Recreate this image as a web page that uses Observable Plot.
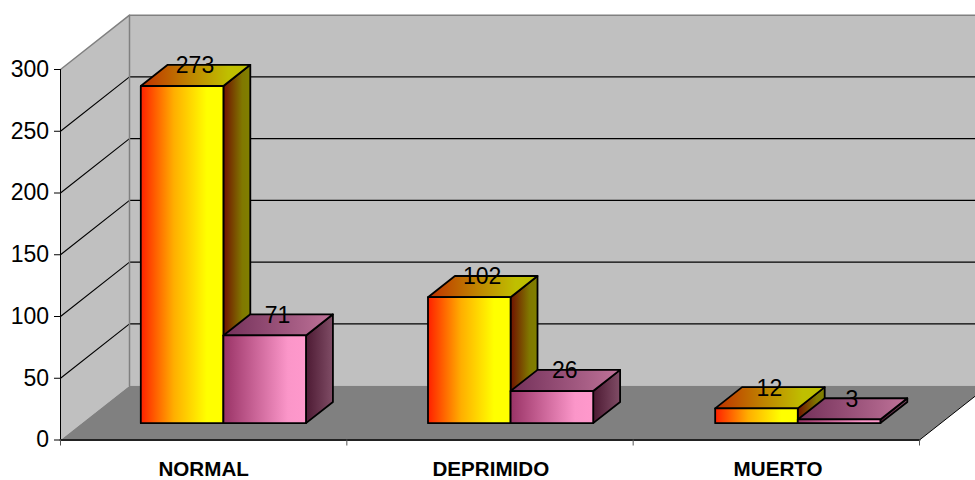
<!DOCTYPE html>
<html>
<head>
<meta charset="utf-8">
<script src="https://cdn.jsdelivr.net/npm/d3@7"></script>
<script src="https://cdn.jsdelivr.net/npm/@observablehq/plot@0.6"></script>
<style>
  html, body { margin: 0; padding: 0; background: #fff; }
  svg { display: block; }
</style>
</head>
<body>
<div id="chart"></div>
<script>
const categories = ["NORMAL", "DEPRIMIDO", "MUERTO"];
const seriesA = [273, 102, 12];
const seriesB = [71, 26, 3];
const valueTicks = [0, 50, 100, 150, 200, 250, 300];
const categoryTicks = [0, 1, 2, 3];

// Oblique projection: depth 0 is the front plane, depth 1 the back wall.
const DEPTH_X = 0.241;   // category units
const DEPTH_Y = 44;      // value units
const at = (x, v, d = 0) => ({x: x + d * DEPTH_X, y: v + d * DEPTH_Y});

const BAR_FRONT = 0.31, BAR_BACK = 0.70;
const BAR_WIDTH = 0.2885, BAR_GAP = 0.2057, BAR_STEP = 1.003;
const BAR_OUTLINE = 1.8;
const MAX_VALUE = 300;

const face = (points, fill, stroke = "none", strokeWidth = 1) =>
  Plot.line([...points, points[0]], {x: "x", y: "y", fill, stroke, strokeWidth});
const edge = (points, stroke, strokeWidth = 1) =>
  Plot.line(points, {x: "x", y: "y", stroke, strokeWidth});

function gradient(id, stops) {
  const g = d3.create("svg:linearGradient").attr("id", id);
  for (const [offset, color] of stops) {
    g.append("stop").attr("offset", offset).attr("stop-color", color);
  }
  return g.node();
}

// Gradient definitions for the three faces of each bar series.
function defs() {
  const d = d3.create("svg:defs");
  const add = (id, stops) => d.append(() => gradient(id, stops));
  add("warmFront", [[0, "#ff2000"], [0.4, "#ffae00"], [0.8, "#ffff00"], [1, "#ffff00"]]);
  add("warmTop", [[0, "#bf3000"], [0.45, "#bf8500"], [0.8, "#bfbf00"], [1, "#bfbf00"]]);
  add("warmSide", [[0, "#701000"], [0.7, "#807800"], [1, "#808000"]]);
  add("pinkFront", [[0, "#993366"], [0.78, "#fb96c9"], [1, "#ff99cc"]]);
  add("pinkTop", [[0, "#733059"], [1, "#bf7399"]]);
  add("pinkSide", [[0, "#4d1a33"], [1, "#804d66"]]);
  return d.node();
}

function bar(x0, value, prefix) {
  const x1 = x0 + BAR_WIDTH;
  return [
    face([at(x1, 0, BAR_FRONT), at(x1, 0, BAR_BACK), at(x1, value, BAR_BACK), at(x1, value, BAR_FRONT)],
         `url(#${prefix}Side)`, "#000", BAR_OUTLINE),
    face([at(x0, value, BAR_FRONT), at(x1, value, BAR_FRONT), at(x1, value, BAR_BACK), at(x0, value, BAR_BACK)],
         `url(#${prefix}Top)`, "#000", BAR_OUTLINE),
    face([at(x0, 0, BAR_FRONT), at(x1, 0, BAR_FRONT), at(x1, value, BAR_FRONT), at(x0, value, BAR_FRONT)],
         `url(#${prefix}Front)`, "#000", BAR_OUTLINE)
  ];
}

const barLeft = i => BAR_GAP + i * BAR_STEP;
const labels = categories.flatMap((c, i) => [
  {...at(barLeft(i) + BAR_WIDTH / 2, seriesA[i], BAR_BACK), text: String(seriesA[i])},
  {...at(barLeft(i) + BAR_WIDTH * 1.5, seriesB[i], BAR_BACK), text: String(seriesB[i])}
]);

const chart = Plot.plot({
  width: 975,
  height: 480,
  marginLeft: 60,
  marginRight: 56,
  marginTop: 69,
  marginBottom: 40.5,
  style: {fontFamily: "'Liberation Sans', Arial, sans-serif", background: "#fff", color: "#000"},
  x: {domain: [0, 3], axis: null},
  y: {domain: [0, MAX_VALUE], axis: null},
  marks: [
    defs,
    // Back wall, side wall and floor
    face([at(0, 0, 1), at(3, 0, 1), at(3, MAX_VALUE, 1), at(0, MAX_VALUE, 1)], "#c0c0c0"),
    face([at(0, 0), at(0, 0, 1), at(0, MAX_VALUE, 1), at(0, MAX_VALUE)], "#c0c0c0"),
    face([at(0, 0), at(3, 0), at(3, 0, 1), at(0, 0, 1)], "#808080"),
    // Gridlines running along the side wall and the back wall
    ...valueTicks.filter(v => v > 0 && v < MAX_VALUE).map(v =>
      edge([at(0, v), at(0, v, 1), at(3, v, 1)], "#000", 1.1)),
    edge([at(0, MAX_VALUE), at(0, MAX_VALUE, 1), at(3, MAX_VALUE, 1)], "#808080", 1.5),
    edge([at(0, 0, 1), at(0, MAX_VALUE, 1)], "#808080", 1.5),
    edge([at(0, 0), at(0, MAX_VALUE)], "#000", 1),
    edge([at(3, 0), at(3, 0, 1)], "#000", 1),
    edge([at(0, 0), at(3, 0)], "#222", 2),
    // Axes
    Plot.axisY(valueTicks, {tickSize: 6, tickPadding: 5.5, fontSize: 23, label: null, stroke: "#000"}),
    Plot.axisX(categoryTicks, {tickSize: 6, tickFormat: () => "", label: null, stroke: "#555"}),
    Plot.text(categories, {
      x: (c, i) => 0.5 + i * BAR_STEP,
      y: 0,
      text: d => d,
      dy: 29,
      fontSize: 20.6,
      fontWeight: "bold",
      textAnchor: "middle"
    }),
    // Bars, left series first so the right series overlaps its side face
    ...categories.flatMap((c, i) => [
      ...bar(barLeft(i), seriesA[i], "warm"),
      ...bar(barLeft(i) + BAR_WIDTH, seriesB[i], "pink")
    ]),
    Plot.text(labels, {
      x: "x",
      y: "y",
      text: "text",
      dx: -14,
      dy: 1,
      fontSize: 23,
      textAnchor: "middle"
    })
  ]
});
document.getElementById("chart").append(chart);
</script>
</body>
</html>
